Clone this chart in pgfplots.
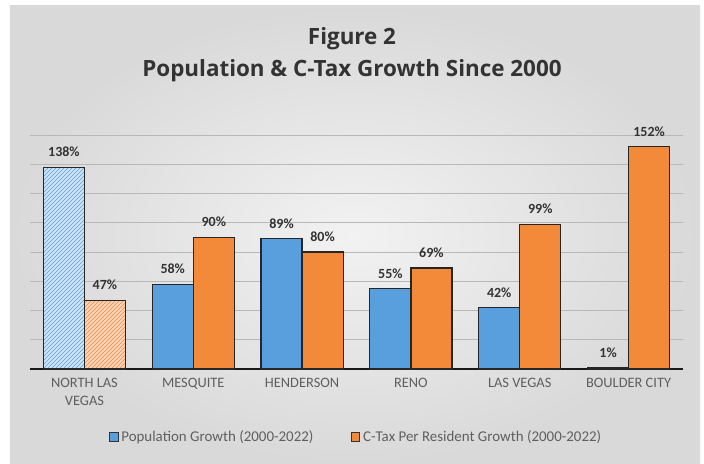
\documentclass[border=0pt]{standalone}
\usepackage{fontspec}
\setmainfont{Carlito}
\newfontfamily\titlefont{Open Sans}
\usepackage{pgfplots}
\pgfplotsset{compat=1.18}
\usetikzlibrary{patterns,calc,backgrounds}
\definecolor{popblue}{HTML}{5A9FDD}
\definecolor{taxorange}{HTML}{F38A3A}
\definecolor{lightblue}{HTML}{CFE4F6}
\definecolor{lightorange}{HTML}{FBD6BC}
\definecolor{txtgray}{HTML}{5F5F5F}
\definecolor{lbldark}{HTML}{333333}
\definecolor{bginner}{HTML}{D9D9D9}
\definecolor{bgcenter}{HTML}{F2F2F2}
\definecolor{gridc}{HTML}{B8B8B8}
\begin{document}
\begin{tikzpicture}[x=0.75pt,y=0.75pt]
\begin{axis}[
  scale only axis,
  width=489.75pt, height=175.5pt,
  ymin=0, ymax=160,
  xmin=-0.5, xmax=5.5,
  axis x line*=bottom,
  axis y line*=left,
  y axis line style={draw=none},
  x axis line style={draw=black!90, line width=1.3pt},
  ytick={20,40,...,160},
  yticklabels={},
  ymajorgrids,
  grid style={gridc, line width=0.7pt},
  xtick={0,1,2,3,4,5},
  xticklabels={{NORTH LAS\\VEGAS},MESQUITE,HENDERSON,RENO,LAS VEGAS,BOULDER CITY},
  xticklabel style={align=center, text=txtgray, font=\fontsize{10.8}{14}\selectfont, yshift=-3pt},
  major tick length=0pt,
  ybar, bar width=0.377,
  /pgf/number format/assume math mode=true,
  nodes near coords={\pgfmathprintnumber{\pgfplotspointmeta}\%},
  nodes near coords style={font=\bfseries\fontsize{10.5}{12}\selectfont, text=lbldark, yshift=4pt},
  legend style={at={(0.5,-0.29)}, anchor=center, draw=none, fill=none,
    legend columns=2, font=\fontsize{11.2}{13}\selectfont, text=txtgray,
    /tikz/every even column/.append style={column sep=26pt}},
  legend image code/.code={\draw[#1, draw=black!80, line width=0.8pt] (0pt,-3.2pt) rectangle (6.4pt,3.2pt);},
  clip=false,
]
\coordinate (O) at (rel axis cs:0,0);
\addplot[fill=popblue, draw=black!85, line width=0.9pt, bar shift=-0.1885]
  coordinates {(1,58) (2,89) (3,55) (4,42) (5,1)};
\addplot[fill=taxorange, draw=black!85, line width=0.9pt, bar shift=0.1885]
  coordinates {(1,90) (2,80) (3,69) (4,99) (5,152)};
\addplot[fill=lightblue, draw=black!85, line width=0.9pt, bar shift=-0.1885,
  postaction={pattern=north east lines, pattern color=popblue}, forget plot]
  coordinates {(0,138)};
\addplot[fill=lightorange, draw=black!85, line width=0.9pt, bar shift=0.1885,
  postaction={pattern=north east lines, pattern color=taxorange}, forget plot]
  coordinates {(0,47)};
\legend{Population Growth (2000-2022), C-Tax Per Resident Growth (2000-2022)}
\end{axis}
\begin{pgfonlayer}{background}
\fill[white] ($(O)+(-30,-95)$) rectangle ($(O)+(674,369)$);
\shade[inner color=bgcenter, outer color=bginner] ($(O)+(-20,-95)$) rectangle ($(O)+(670,363)$);
\end{pgfonlayer}
\node[font=\titlefont\bfseries\fontsize{16.8}{24}\selectfont, text=lbldark, align=center] at ($(O)+(322,314)$) {Figure 2\\Population \& C-Tax Growth Since 2000};
\end{tikzpicture}
\end{document}
